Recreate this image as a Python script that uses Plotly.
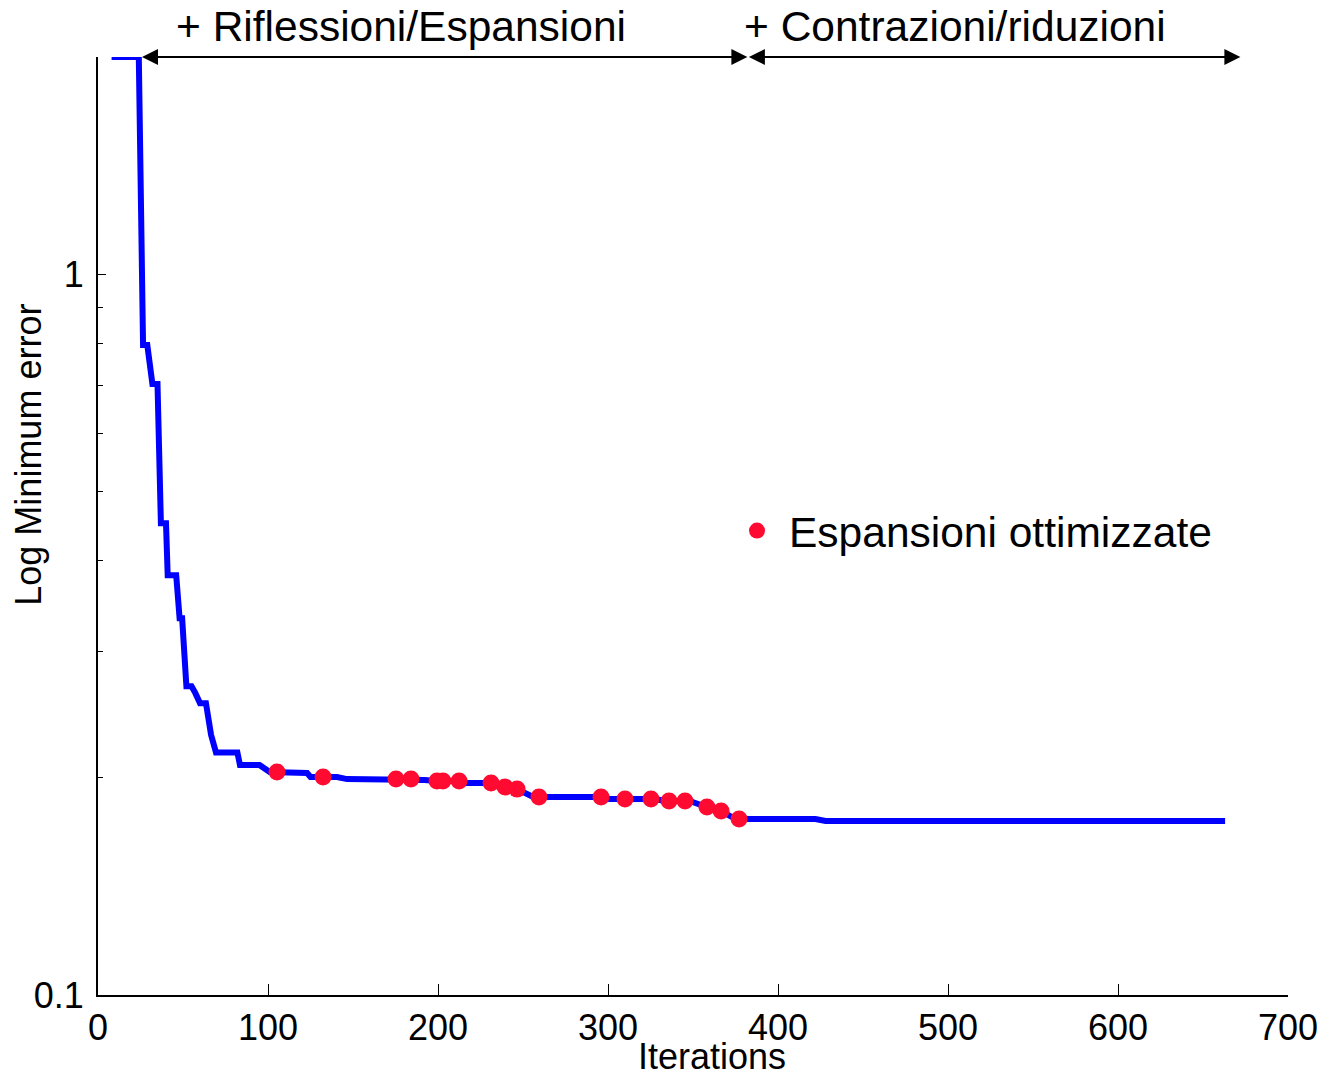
import plotly.graph_objects as go

# Blue curve: minimum error per iteration
line_x = [8, 24, 26.5, 29, 32, 35, 37, 40, 41, 46, 48, 49.5, 52, 55, 57, 60, 63.5, 66.5, 69.4, 82,
          83.5, 95, 101, 123, 125, 140.6, 146.5, 189, 192, 199.4, 213, 217, 233.5, 239.4, 246.5,
          256, 295, 301, 327.6, 333.5, 348, 358, 366.5, 375, 422, 428, 663]
line_y = [2.0, 2.0, 0.797, 0.797, 0.704, 0.704, 0.451, 0.451, 0.382, 0.382, 0.333, 0.333, 0.268, 0.268,
          0.263, 0.254, 0.254, 0.2296, 0.217, 0.217, 0.2085, 0.2085, 0.2038, 0.2032, 0.2006, 0.2006,
          0.1993, 0.1993, 0.1987, 0.1980, 0.1980, 0.1968, 0.1968, 0.1943, 0.1930, 0.1882, 0.1882,
          0.1870, 0.1870, 0.1858, 0.1858, 0.1823, 0.1800, 0.1754, 0.1754, 0.1743, 0.1743]

# Red dots: optimized expansions
dot_x = [105.3, 132.4, 175.3, 184.1, 199.4, 202.9, 212.4, 231.2, 239.4, 246.5, 259.4, 295.9,
         310.0, 325.3, 335.9, 345.3, 358.2, 366.5, 377.1]
dot_y = [0.2038, 0.2006, 0.1993, 0.1993, 0.1980, 0.1980, 0.1980, 0.1968, 0.1943, 0.1930, 0.1882,
         0.1882, 0.1870, 0.1870, 0.1858, 0.1858, 0.1823, 0.1800, 0.1754]

x_ticks = [0, 100, 200, 300, 400, 500, 600, 700]
y_major = [0.1, 1]
y_minor = [0.2, 0.3, 0.4, 0.5, 0.6, 0.7, 0.8, 0.9, 2]

phase_labels = ["+ Riflessioni/Espansioni", "+ Contrazioni/riduzioni"]
phase_bounds = [25, 382, 672]

FONT = "Liberation Sans, Arial, sans-serif"

fig = go.Figure()
fig.add_trace(go.Scatter(x=line_x, y=line_y, mode="lines",
                         line=dict(color="#0000ff", width=6), showlegend=False))
fig.add_trace(go.Scatter(x=dot_x, y=dot_y, mode="markers", name="Espansioni ottimizzate",
                         marker=dict(color="#ff0a30", size=17)))

annotations = []
for i, lab in enumerate(phase_labels):
    a, b = phase_bounds[i], phase_bounds[i + 1]
    annotations.append(dict(x=b, y=1, xref="x", yref="paper", ax=a, ay=0, axref="x", ayref="pixel",
                            showarrow=True, arrowside="end+start", arrowhead=2, startarrowhead=2,
                            arrowsize=1.6, startarrowsize=1.6, arrowwidth=2, arrowcolor="black",
                            standoff=0, startstandoff=0, text=""))
annotations.append(dict(x=178, y=1.032, xref="x", yref="paper", text=phase_labels[0],
                        showarrow=False, font=dict(size=42.5, color="black", family=FONT),
                        xanchor="center", yanchor="middle"))
annotations.append(dict(x=504, y=1.032, xref="x", yref="paper", text=phase_labels[1],
                        showarrow=False, font=dict(size=42.5, color="black", family=FONT),
                        xanchor="center", yanchor="middle"))
annotations.append(dict(x=0.516, y=-0.066, xref="paper", yref="paper", text="Iterations",
                        showarrow=False, font=dict(size=36, color="black", family=FONT),
                        xanchor="center", yanchor="middle"))
annotations.append(dict(x=-0.058, y=0.576, xref="paper", yref="paper", text="Log Minimum error",
                        showarrow=False, textangle=-90, font=dict(size=36, color="black", family=FONT),
                        xanchor="center", yanchor="middle"))

fig.update_layout(
    width=1329, height=1076,
    margin=dict(l=98, r=41, t=57, b=81),
    plot_bgcolor="white", paper_bgcolor="white",
    font=dict(family=FONT, size=36, color="black"),
    showlegend=True,
    legend=dict(x=0.5269, y=0.4947, xanchor="left", yanchor="middle", bgcolor="rgba(0,0,0,0)",
                itemwidth=54, font=dict(size=42.5, family=FONT, color="black")),
    annotations=annotations,
    xaxis=dict(range=[0, 700], tickvals=x_ticks, ticks="inside", ticklen=11, tickwidth=1,
               tickcolor="black", showline=True, linecolor="black", linewidth=2, showgrid=False,
               zeroline=False, mirror=False, tickfont=dict(size=36)),
    yaxis=dict(type="log", range=[-1, 0.30103], tickvals=y_major, ticktext=["0.1", "1"],
               ticks="inside", ticklen=8, tickwidth=1, tickcolor="black", showline=True,
               linecolor="black", linewidth=2, showgrid=False, zeroline=False, mirror=False,
               tickfont=dict(size=36), ticklabelstandoff=5,
               minor=dict(tickvals=y_minor, ticks="inside", ticklen=5, tickwidth=1,
                          tickcolor="black", showgrid=False)),
)

fig.write_html("out.html")
